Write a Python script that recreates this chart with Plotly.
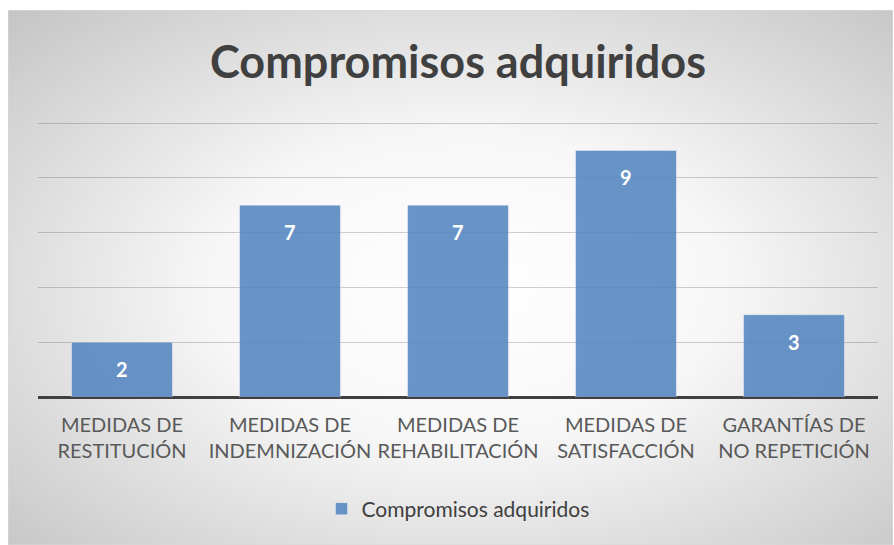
import base64
import plotly.graph_objects as go

categorias = [
    "MEDIDAS DE<br>RESTITUCIÓN",
    "MEDIDAS DE<br>INDEMNIZACIÓN",
    "MEDIDAS DE<br>REHABILITACIÓN",
    "MEDIDAS DE<br>SATISFACCIÓN",
    "GARANTÍAS DE<br>NO REPETICIÓN",
]
valores = [2, 7, 7, 9, 3]
serie = "Compromisos adquiridos"

# fondo con degradado radial (svg)
svg = (
    '<svg xmlns="http://www.w3.org/2000/svg" width="886" height="535" '
    'preserveAspectRatio="none">'
    '<defs><radialGradient id="g" cx="52%" cy="52%" r="72%">'
    '<stop offset="0" stop-color="#ffffff"/>'
    '<stop offset="0.4" stop-color="#f7f7f7"/>'
    '<stop offset="1" stop-color="#c6c6c6"/>'
    '</radialGradient></defs>'
    '<rect width="886" height="535" fill="url(#g)" stroke="#d9d9d9" stroke-width="1"/>'
    '</svg>'
)
fondo = "data:image/svg+xml;base64," + base64.b64encode(svg.encode()).decode()

W, H = 894, 545
ml, mr, mt, mb = 38, 16, 120, 148
pw, ph = W - ml - mr, H - mt - mb


def px(x):
    return (x - ml) / pw


def py(y):
    return (H - mb - y) / ph


fig = go.Figure()

fig.add_trace(go.Bar(
    x=categorias,
    y=valores,
    name=serie,
    marker=dict(color="rgba(79,129,189,0.85)",
                line=dict(color="rgba(255,255,255,0.35)", width=1)),
    width=0.6,
    showlegend=True,
))

# etiquetas de datos
for c, v in zip(categorias, valores):
    fig.add_annotation(
        x=c, y=v, text=f"<b>{v}</b>", showarrow=False,
        yshift=-27, font=dict(color="white", size=20, family="Lato"),
    )

fig.add_layout_image(
    source=fondo, xref="paper", yref="paper",
    x=px(8), y=py(10), sizex=(893 - 8) / pw, sizey=(545 - 10) / ph,
    xanchor="left", yanchor="top", sizing="stretch", layer="below",
)

fig.update_layout(
    width=W, height=H,
    margin=dict(l=ml, r=mr, t=mt, b=mb),
    paper_bgcolor="white",
    plot_bgcolor="rgba(0,0,0,0)",
    title=dict(text="<b>Compromisos adquiridos</b>", x=0.5, xanchor="center", xref="paper",
               y=(H - 62) / H, yanchor="middle", yref="container",
               font=dict(size=45, color="#404040", family="Lato")),
    font=dict(family="Lato", color="#595959"),
    bargap=0.4,
    legend=dict(orientation="h", x=0.5, xanchor="center", y=py(509), yanchor="middle",
                font=dict(size=21, color="#404040"), bgcolor="rgba(0,0,0,0)"),
    xaxis=dict(tickfont=dict(size=20, color="#595959"), showgrid=False,
               showline=False, ticks="", ticklabelstandoff=14),
    yaxis=dict(range=[0, 10.11], dtick=2, showticklabels=False, showgrid=True,
               gridcolor="rgba(0,0,0,0.18)", gridwidth=1, zeroline=True,
               zerolinecolor="#404040", zerolinewidth=3, fixedrange=True),
)

fig.write_html("out.html", config={"displayModeBar": False},
               post_script="document.body.style.margin='0';")
